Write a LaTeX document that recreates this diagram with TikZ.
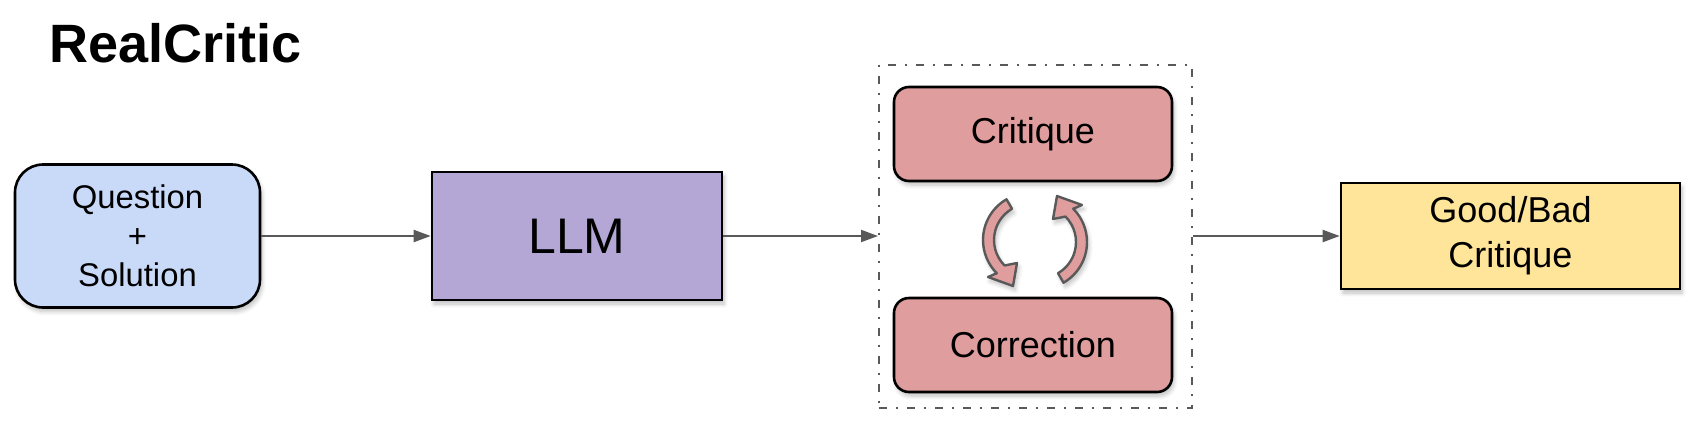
\documentclass[tikz,border=0pt]{standalone}
\usepackage{fontspec}
\setmainfont{Liberation Sans}
\usetikzlibrary{arrows.meta, shadows.blur}

\definecolor{qblue}{HTML}{C9DAF8}
\definecolor{llmpurple}{HTML}{B4A7D6}
\definecolor{critred}{HTML}{E09D9D}
\definecolor{outyellow}{HTML}{FFE599}
\definecolor{linegray}{HTML}{595959}

\tikzset{
  softshadow/.style={blur shadow={shadow xshift=1pt, shadow yshift=-2pt, shadow blur steps=6, shadow opacity=25}},
  box/.style={draw=black, line width=1.3pt, inner sep=0pt, align=center, softshadow},
  flow/.style={draw=linegray, line width=1pt, -{Triangle[length=8.5pt,width=6pt]}},
  loopy/.style={fill=critred, draw=linegray, line width=1.2pt, line join=round, softshadow},
}

\begin{document}
\begin{tikzpicture}[x=0.5pt, y=-0.5pt]
  \useasboundingbox (0,0) rectangle (1698,424);

  \node[anchor=base west, inner sep=0pt, font=\fontsize{27}{32}\selectfont\bfseries] (title) at (49,62) {RealCritic};

  % group around the loop
  \node[draw=linegray, line width=1pt, dash pattern=on 4pt off 4.5pt on 1pt off 4.5pt,
        minimum width=156.5pt, minimum height=171.5pt] (loop) at (1035.5,236) {};

  \node[box, fill=qblue, rounded corners=14pt, minimum width=122.5pt, minimum height=71.5pt,
        font=\fontsize{16.4}{19.4}\selectfont] (Q) at (137.5,236) {Question\\+\\Solution};
  \node[box, fill=llmpurple, minimum width=145pt, minimum height=64pt,
        font=\fontsize{25}{30}\selectfont] (LLM) at (577,236) {LLM};
  \node[box, fill=critred, rounded corners=7.5pt, minimum width=139pt, minimum height=47pt,
        font=\fontsize{18}{22}\selectfont] (crit) at (1033,134) {Critique};
  \node[box, fill=critred, rounded corners=7.5pt, minimum width=139pt, minimum height=47pt,
        font=\fontsize{18}{22}\selectfont] (corr) at (1033,345) {Correction};
  \node[box, fill=outyellow, minimum width=169.5pt, minimum height=53pt,
        font=\fontsize{18}{22.5}\selectfont] (out) at (1510.5,236) {Good/Bad\\Critique};

  \draw[flow] (Q) -- (LLM);
  \draw[flow] (LLM) -- (loop);
  \draw[flow] (loop) -- (out);

  % the two turning arrows
  \draw[loopy] (1030,240) ++(240:47) arc[start angle=240, end angle=135, radius=47]
    -- (988,277) -- (1013,286) -- (1017,263)
    -- ([shift={(1030,240)}]135:36) arc[start angle=135, end angle=240, radius=36] -- cycle;
  \begin{scope}[rotate around={180:(1035,241)}]
    \draw[loopy] (1030,240) ++(240:47) arc[start angle=240, end angle=135, radius=47]
      -- (988,277) -- (1013,286) -- (1017,263)
      -- ([shift={(1030,240)}]135:36) arc[start angle=135, end angle=240, radius=36] -- cycle;
  \end{scope}
\end{tikzpicture}
\end{document}
